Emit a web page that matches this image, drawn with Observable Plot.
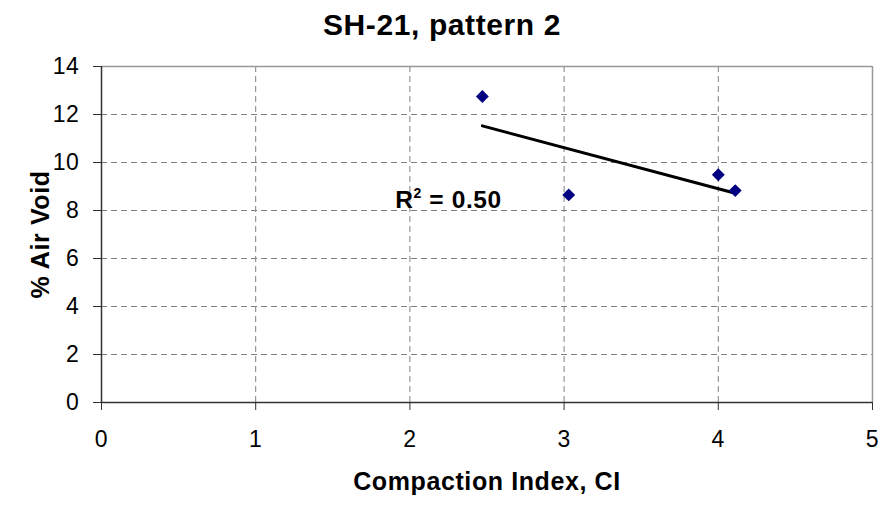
<!DOCTYPE html>
<html><head><meta charset="utf-8">
<script src="https://cdn.jsdelivr.net/npm/d3@7"></script>
<script src="https://cdn.jsdelivr.net/npm/@observablehq/plot@0.6"></script>
<style>body{margin:0;background:#fff}</style>
</head><body><div id="chart"></div>
<script>
const title = "SH-21, pattern 2";
const xLabel = "Compaction Index, CI";
const yLabel = "% Air Void";
const compactionIndex = [2.47, 3.03, 4.00, 4.11];
const airVoid = [12.75, 8.65, 9.49, 8.83];
const xTicks = [0, 1, 2, 3, 4, 5];
const yTicks = [0, 2, 4, 6, 8, 10, 12, 14];
const r2Base = ["R"];
const r2Sup = ["2"];
const r2Rest = [" = 0.50"];
const r2X = [1.905];
const r2Y = [8.44];

const data = compactionIndex.map((x, i) => ({x, y: airVoid[i]}));
const r2 = r2Base.map((t, i) => ({t: t + r2Sup[i] + r2Rest[i], x: r2X[i], y: r2Y[i]}));

const plot = Plot.plot({
  width: 885,
  height: 506,
  marginLeft: 101,
  marginRight: 13,
  marginTop: 66,
  marginBottom: 104,
  style: {fontFamily: "'Liberation Sans', Arial, sans-serif", color: "#000", background: "#fff", letterSpacing: "0.6px"},
  x: {domain: [0, 5]},
  y: {domain: [0, 14]},
  marks: [
    Plot.gridX(xTicks.slice(1, -1), {stroke: "#808080", strokeOpacity: 1, strokeDasharray: "6,4"}),
    Plot.gridY(yTicks.slice(1, -1), {stroke: "#808080", strokeOpacity: 1, strokeDasharray: "6,4"}),
    Plot.ruleY([yTicks[yTicks.length - 1]], {stroke: "#999", strokeWidth: 1.5}),
    Plot.ruleX([xTicks[xTicks.length - 1]], {stroke: "#999", strokeWidth: 1.5}),
    Plot.ruleX([0], {stroke: "#333", strokeWidth: 1.5}),
    Plot.ruleY([0], {stroke: "#333", strokeWidth: 1.5}),
    Plot.axisX({ticks: xTicks, tickFormat: "d", tickSize: 8, tickPadding: 20, fontSize: 23, label: null, stroke: "#333"}),
    Plot.axisY({ticks: yTicks, tickFormat: "d", tickSize: 8, tickPadding: 14, fontSize: 23, label: null, stroke: "#333"}),
    Plot.linearRegressionY(data, {x: "x", y: "y", ci: 0, stroke: "#000", strokeWidth: 3}),
    Plot.dot(data, {x: "x", y: "y", symbol: "diamond2", r: 5.8, fill: "#000080", stroke: "none"}),
    Plot.text(r2, {x: "x", y: "y", text: "t", textAnchor: "start", fontSize: 24.5, fontWeight: "bold"}),
    Plot.text([title], {frameAnchor: "top", textAnchor: "middle", dy: -53, dx: -45, fontSize: 30, fontWeight: "bold"}),
    Plot.text([xLabel], {frameAnchor: "bottom", textAnchor: "middle", dy: 87, fontSize: 25, fontWeight: "bold"}),
    Plot.text([yLabel], {frameAnchor: "left", textAnchor: "middle", dx: -61, rotate: -90, fontSize: 25, fontWeight: "bold"})
  ]
});
// render the R² label with a real superscript
d3.select(plot).selectAll("text").each(function() {
  const full = r2Base[0] + r2Sup[0] + r2Rest[0];
  if (this.textContent === full) {
    const t = d3.select(this);
    t.text(null);
    t.append("tspan").text(r2Base[0]);
    t.append("tspan").attr("dy", "-10").attr("font-size", "14px").text(r2Sup[0]);
    t.append("tspan").attr("dy", "10").text(r2Rest[0]);
  }
});
document.getElementById("chart").appendChild(plot);
</script>
</body></html>
